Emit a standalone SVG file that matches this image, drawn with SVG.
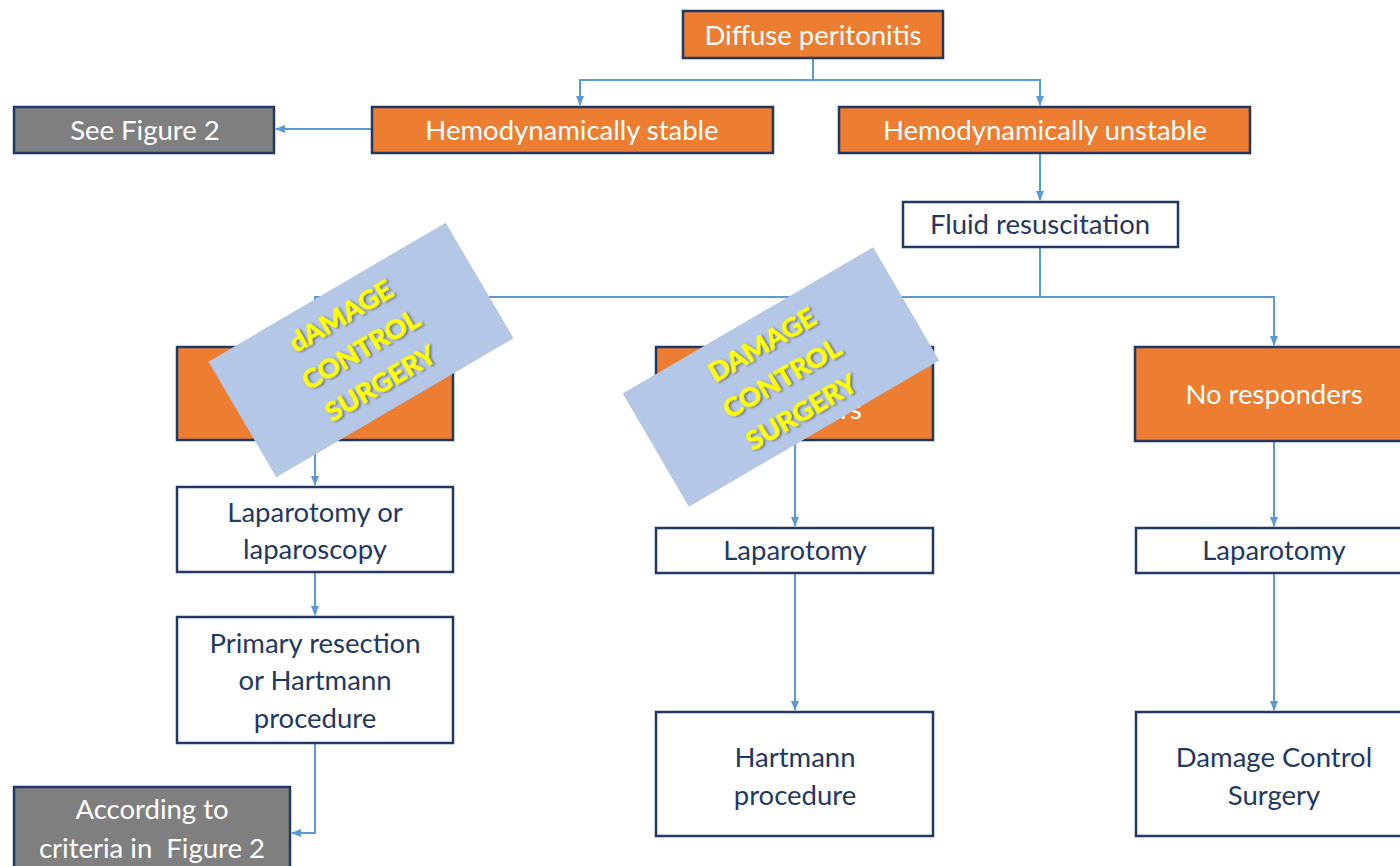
<svg xmlns="http://www.w3.org/2000/svg" width="1400" height="866" viewBox="0 0 1400 866">
<defs>
<marker id="arr" markerWidth="10" markerHeight="10" refX="9" refY="5" orient="auto" markerUnits="userSpaceOnUse">
<path d="M0,1 L10,5 L0,9 Z" fill="#5B9BD5"/>
</marker>
<filter id="sh" x="-20%" y="-20%" width="140%" height="140%">
<feDropShadow dx="1.5" dy="1.5" stdDeviation="0.8" flood-color="#404040" flood-opacity="0.7"/>
</filter>
</defs>
<style>
.or{fill:#ED7D31;stroke:#1F3864;stroke-width:2.5}
.gr{fill:#7F7F7F;stroke:#1F3864;stroke-width:2.5}
.wh{fill:#FFFFFF;stroke:#1F3864;stroke-width:2.5}
.t{font-family:Lato,"Open Sans","Liberation Sans",sans-serif;font-size:27.5px;text-anchor:middle;white-space:pre}
.tw{fill:#FFFFFF}
.tn{fill:#1F3864}
.c{fill:none;stroke:#5B9BD5;stroke-width:2}
.ov{fill:#B4C7E7}
.y{font-family:Lato,"Open Sans","Liberation Sans",sans-serif;font-size:27.5px;font-weight:bold;fill:#FFFF00;stroke:#FFFF00;stroke-width:0.6;text-anchor:middle}
</style>
<rect width="1400" height="866" fill="#FFFFFF"/>
<g id="connectors">
<path class="c" d="M813,58 V80"/>
<path class="c" d="M813,80 H580 V105" marker-end="url(#arr)"/>
<path class="c" d="M813,80 H1040 V105" marker-end="url(#arr)"/>
<path class="c" d="M372,129 H276" marker-end="url(#arr)"/>
<path class="c" d="M1040,153 V200" marker-end="url(#arr)"/>
<path class="c" d="M1040,247 V297"/>
<path class="c" d="M1040,297 H1274 V345" marker-end="url(#arr)"/>
<path class="c" d="M1040,297 H315 V345" marker-end="url(#arr)"/>
<path class="c" d="M795,297 V345" marker-end="url(#arr)"/>
<path class="c" d="M315,440 V485" marker-end="url(#arr)"/>
<path class="c" d="M315,572 V615" marker-end="url(#arr)"/>
<path class="c" d="M315,743 V833 H292" marker-end="url(#arr)"/>
<path class="c" d="M795,440 V526" marker-end="url(#arr)"/>
<path class="c" d="M795,573 V710" marker-end="url(#arr)"/>
<path class="c" d="M1274,441 V526" marker-end="url(#arr)"/>
<path class="c" d="M1274,573 V710" marker-end="url(#arr)"/>
</g>
<g id="diffuse"><rect class="or" x="683" y="11" width="260" height="47"/><text class="t tw" x="813" y="45">Diffuse peritonitis</text></g>
<g id="stable"><rect class="or" x="372" y="107" width="401" height="46"/><text class="t tw" x="572" y="140">Hemodynamically stable</text></g>
<g id="unstable"><rect class="or" x="839" y="107" width="411" height="46"/><text class="t tw" x="1045" y="140">Hemodynamically unstable</text></g>
<g id="seefig2"><rect class="gr" x="14" y="107" width="260" height="46"/><text class="t tw" x="145" y="140">See Figure 2</text></g>
<g id="fluid"><rect class="wh" x="903" y="202" width="275" height="45"/><text class="t tn" x="1040" y="234">Fluid resuscitation</text></g>
<g id="responders"><rect class="or" x="177" y="347" width="276" height="93"/></g>
<g id="transient"><rect class="or" x="656" y="347" width="277" height="93"/><text class="t tw" x="795" y="388">Transient</text><text class="t tw" x="795" y="419">responders</text></g>
<g id="noresp"><rect class="or" x="1135" y="347" width="280" height="94"/><text class="t tw" x="1274" y="404">No responders</text></g>
<g id="lapleft"><rect class="wh" x="177" y="487" width="276" height="85"/><text class="t tn" x="315" y="522">Laparotomy or</text><text class="t tn" x="315" y="559">laparoscopy</text></g>
<g id="primary"><rect class="wh" x="177" y="617" width="276" height="126"/><text class="t tn" x="315" y="653">Primary resection</text><text class="t tn" x="315" y="690">or Hartmann</text><text class="t tn" x="315" y="728">procedure</text></g>
<g id="according"><rect class="gr" x="14" y="787" width="276" height="95"/><text class="t tw" x="152" y="819">According to</text><text class="t tw" x="152" y="858">criteria in  Figure 2</text></g>
<g id="lapmid"><rect class="wh" x="656" y="528" width="277" height="45"/><text class="t tn" x="795" y="560">Laparotomy</text></g>
<g id="hartmann"><rect class="wh" x="656" y="712" width="277" height="124"/><text class="t tn" x="795" y="767">Hartmann</text><text class="t tn" x="795" y="805">procedure</text></g>
<g id="lapright"><rect class="wh" x="1136" y="528" width="280" height="45"/><text class="t tn" x="1274" y="560">Laparotomy</text></g>
<g id="dcs"><rect class="wh" x="1136" y="712" width="280" height="124"/><text class="t tn" x="1274" y="767">Damage Control</text><text class="t tn" x="1274" y="805">Surgery</text></g>
<g id="overlay1" transform="translate(361,350) rotate(-30.4)">
<rect class="ov" x="-137.5" y="-67" width="275" height="134"/>
<g filter="url(#sh)"><text class="y" x="0" y="-30">dAMAGE</text><text class="y" x="0" y="9">CONTROL</text><text class="y" x="0" y="48">SURGERY</text></g>
</g>
<g id="overlay2" transform="translate(781,377) rotate(-30.3)">
<rect class="ov" x="-145" y="-65.5" width="290" height="131"/>
<g filter="url(#sh)"><text class="y" x="0" y="-28">DAMAGE</text><text class="y" x="0" y="11">CONTROL</text><text class="y" x="0" y="50">SURGERY</text></g>
</g>
</svg>
